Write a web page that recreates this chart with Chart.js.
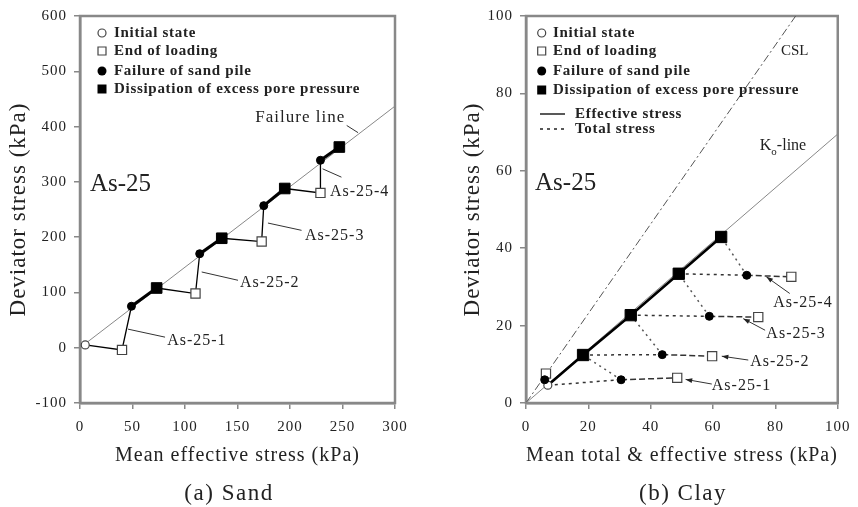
<!DOCTYPE html>
<html>
<head>
<meta charset="utf-8">
<script src="https://cdn.jsdelivr.net/npm/chart.js@4/dist/chart.umd.min.js"></script>
<style>
  html, body { margin: 0; padding: 0; background: #fff; }
  canvas { position: absolute; top: 0; }
  #sand { left: 0; }
  #clay { left: 429px; }
</style>
</head>
<body>
<canvas id="sand" width="429" height="507"></canvas>
<canvas id="clay" width="429" height="507"></canvas>
<script>
// (a) Sand: [mean effective stress, deviator stress] in kPa
const sandInitial = [[5, 5]];
const sandEndLoading = [[40, -4], [110, 98], [173, 192], [229, 280]];
const sandFailure = [[49, 75], [114, 170], [175, 257], [229, 339]];
const sandDissipation = [[73, 108], [135, 198], [195, 288], [247, 363]];
const sandFailureLine = [[0, 0], [300, 437]];
const sandXTicks = [0, 50, 100, 150, 200, 250, 300];
const sandYTicks = [-100, 0, 100, 200, 300, 400, 500, 600];

// (b) Clay: [mean total & effective stress, deviator stress] in kPa
const clayInitial = [[7, 4.6]];
const clayEndLoading = [[6.4, 7.6], [48.5, 6.5], [59.7, 12.1], [74.5, 22.2], [85.1, 32.6]];
const clayFailure = [[6, 6], [30.5, 6], [43.7, 12.5], [58.8, 22.4], [70.8, 33]];
const clayDissipation = [[18.3, 12.4], [33.6, 22.7], [49, 33.4], [62.6, 42.9]];
const clayK0Line = [[0, 0], [100, 69.5]];
const clayCSL = [[0, 0], [86.5, 100]];
const clayXTicks = [0, 20, 40, 60, 80, 100];
const clayYTicks = [0, 20, 40, 60, 80, 100];

const caseNames = ['As-25-1', 'As-25-2', 'As-25-3', 'As-25-4'];

const FONT = '"Liberation Serif", "Times New Roman", serif';
const pts = a => a.map(([x, y]) => ({x, y}));

// sand path: initial -> (end of loading -> failure -> dissipation) x 4
let sandPath = [...sandInitial];
sandEndLoading.forEach((p, i) => sandPath.push(p, sandFailure[i], sandDissipation[i]));

function markerSets(initial, endLoading, failure, dissipation, sqR) {
    return [
        {data: pts(dissipation), pointStyle: 'rect', pointRadius: sqR, pointBackgroundColor: '#000', pointBorderColor: '#000', pointBorderWidth: 1},
        {data: pts(failure), pointStyle: 'circle', pointRadius: 4, pointBackgroundColor: '#000', pointBorderColor: '#000', pointBorderWidth: 1},
        {data: pts(endLoading), pointStyle: 'rect', pointRadius: 6.5, pointBackgroundColor: '#fff', pointBorderColor: '#444', pointBorderWidth: 1.2},
        {data: pts(initial), pointStyle: 'circle', pointRadius: 4, pointBackgroundColor: '#fff', pointBorderColor: '#444', pointBorderWidth: 1.2}
    ];
}

function line(data, color, width, dash) {
    return {data: pts(data), showLine: true, pointRadius: 0, borderColor: color, borderWidth: width, borderDash: dash || []};
}

const sandSets = [
    ...markerSets(sandInitial, sandEndLoading, sandFailure, sandDissipation, 7.5),
    {data: pts(sandPath), showLine: true, pointRadius: 0, borderColor: '#000', borderWidth: 1.3,
     segment: {borderWidth: c => c.p0DataIndex % 3 === 2 ? 3 : 1.3}},
    line(sandFailureLine, '#888', 1)
];

// clay total stress paths, stage k = 1..4
let clayTotal = [];
for (let k = 1; k <= 4; k++) {
    let start = k === 1 ? clayInitial[0] : clayDissipation[k - 2];
    clayTotal.push(line([start, clayFailure[k]], '#333', 1.5, [3, 4]));
    clayTotal.push(line([clayFailure[k], clayEndLoading[k]], '#333', 1.5, [6, 3]));
    clayTotal.push(line([clayFailure[k], clayDissipation[k - 1]], '#555', 1.5, [2, 4]));
}

const claySets = [
    ...markerSets(clayInitial, clayEndLoading, clayFailure, clayDissipation, 8),
    line([...clayInitial, ...clayDissipation], '#000', 2.6),
    ...clayTotal,
    line(clayK0Line, '#888', 1),
    line(clayCSL, '#555', 1, [8, 3, 2, 3])
];

function scales(xTicks, yTicks, xTitle, yWidth, yTitlePad) {
    const tickFont = {family: FONT, size: 15};
    const grid = {drawOnChartArea: false, drawTicks: true, tickLength: 6, color: '#888', lineWidth: 1.5};
    const border = {display: true, color: '#888', width: 2.5};
    return {
        x: {
            type: 'linear', min: xTicks[0], max: xTicks[xTicks.length - 1],
            ticks: {stepSize: xTicks[1] - xTicks[0], font: tickFont, color: '#222', padding: 9, maxRotation: 0, autoSkip: false},
            grid, border,
            title: {display: true, text: xTitle, font: {family: FONT, size: 20}, color: '#222', padding: {top: 0, bottom: 39}},
            afterFit: s => { s.height = 104; }
        },
        y: {
            type: 'linear', min: yTicks[0], max: yTicks[yTicks.length - 1],
            ticks: {stepSize: yTicks[1] - yTicks[0], font: tickFont, color: '#222', padding: 7, autoSkip: false},
            grid, border,
            title: {display: true, text: 'Deviator stress (kPa)', font: {family: FONT, size: 23}, color: '#222', padding: {top: yTitlePad, bottom: 0}},
            afterFit: s => { s.width = yWidth; }
        }
    };
}

function drawMarker(ctx, kind, x, y) {
    ctx.beginPath();
    ctx.lineWidth = 1.2;
    ctx.strokeStyle = '#444';
    ctx.fillStyle = '#000';
    if (kind === 'circleOpen') { ctx.arc(x, y, 4, 0, Math.PI * 2); ctx.stroke(); }
    if (kind === 'squareOpen') { ctx.rect(x - 4, y - 4, 8, 8); ctx.stroke(); }
    if (kind === 'circle') { ctx.arc(x, y, 4.5, 0, Math.PI * 2); ctx.fill(); }
    if (kind === 'square') { ctx.rect(x - 4.5, y - 4.5, 9, 9); ctx.fill(); }
    if (kind === 'solid' || kind === 'dotted') {
        ctx.lineWidth = 1.5;
        ctx.strokeStyle = '#222';
        ctx.setLineDash(kind === 'dotted' ? [3, 4] : []);
        ctx.moveTo(x, y); ctx.lineTo(x + 25, y); ctx.stroke();
        ctx.setLineDash([]);
    }
}

function notes(spec) {
    return {
        id: 'notes',
        beforeDraw(chart) { chart.ctx.letterSpacing = '1px'; },
        beforeDatasetsDraw(chart) {
            const {ctx, chartArea: a} = chart;
            ctx.save();
            ctx.strokeStyle = '#888';
            ctx.lineWidth = 2.5;
            ctx.strokeRect(a.left, a.top, a.right - a.left, a.bottom - a.top);
            ctx.restore();
        },
        afterDatasetsDraw(chart) {
            const {ctx, chartArea: a, scales: {x, y}} = chart;
            const px = p => [x.getPixelForValue(p[0]), y.getPixelForValue(p[1])];
            ctx.save();
            ctx.textBaseline = 'middle';
            ctx.textAlign = 'left';
            ctx.fillStyle = '#222';

            // leaders, some with a small arrow at the path end
            spec.leaders.forEach(l => {
                const [x0, y0] = px(l.from), [x1, y1] = px(l.to);
                ctx.strokeStyle = '#333';
                ctx.lineWidth = 1;
                ctx.beginPath(); ctx.moveTo(x0, y0); ctx.lineTo(x1, y1); ctx.stroke();
                if (l.arrow) {
                    const ang = Math.atan2(y1 - y0, x1 - x0);
                    ctx.beginPath();
                    ctx.moveTo(x0, y0);
                    ctx.lineTo(x0 + 7 * Math.cos(ang - 0.35), y0 + 7 * Math.sin(ang - 0.35));
                    ctx.lineTo(x0 + 7 * Math.cos(ang + 0.35), y0 + 7 * Math.sin(ang + 0.35));
                    ctx.closePath();
                    ctx.fillStyle = '#222';
                    ctx.fill();
                }
            });

            spec.texts.forEach(t => {
                const [tx, ty] = px(t.at);
                ctx.font = t.font;
                ctx.letterSpacing = t.spacing || '0px';
                ctx.fillStyle = '#222';
                ctx.fillText(t.text, tx, ty);
                if (t.sub) {
                    const w = ctx.measureText(t.text).width;
                    ctx.font = t.subFont;
                    ctx.fillText(t.sub, tx + w, ty + 6);
                    const w2 = ctx.measureText(t.sub).width;
                    ctx.font = t.font;
                    ctx.fillText(t.after, tx + w + w2, ty);
                }
            });

            // legend
            ctx.font = 'bold 15px ' + FONT;
            ctx.letterSpacing = '0.7px';
            spec.legend.forEach(it => {
                const isLine = it.kind === 'solid' || it.kind === 'dotted';
                drawMarker(ctx, it.kind, a.left + (isLine ? spec.lineX : spec.markX), a.top + it.dy);
                ctx.fillStyle = '#222';
                ctx.fillText(it.text, a.left + (isLine ? spec.lineTextX : spec.textX), a.top + it.dy);
            });

            // caption under the panel
            ctx.font = '23px ' + FONT;
            ctx.letterSpacing = '1.5px';
            ctx.textAlign = 'center';
            ctx.fillText(spec.caption, spec.captionX, 494);
            ctx.restore();
        }
    };
}

const legendItems = [
    {kind: 'circleOpen', text: 'Initial state', dy: 17},
    {kind: 'squareOpen', text: 'End of loading', dy: 35},
    {kind: 'circle', text: 'Failure of sand pile', dy: 55},
    {kind: 'square', text: 'Dissipation of excess pore pressure', dy: 73}
];

const caseFont = '16px ' + FONT;
const sandNotes = {
    caption: '(a) Sand', captionX: 229,
    markX: 22, textX: 34,
    legend: legendItems,
    texts: [
        {text: 'As-25', at: [9.5, 295], font: '25px ' + FONT},
        {text: 'Failure line', at: [167, 416], font: '17px ' + FONT, spacing: '1px'},
        {text: caseNames[0], at: [83, 12.5], font: caseFont, spacing: '1px'},
        {text: caseNames[1], at: [152.4, 116.6], font: caseFont, spacing: '1px'},
        {text: caseNames[2], at: [214.3, 202.3], font: caseFont, spacing: '1px'},
        {text: caseNames[3], at: [238, 281.4], font: caseFont, spacing: '1px'}
    ],
    leaders: [
        {from: [254, 402], to: [264.8, 389]},
        {from: [45.7, 33.6], to: [81, 19.1]},
        {from: [115.9, 137], to: [150.5, 122]},
        {from: [179, 225.5], to: [211, 212.3]},
        {from: [231, 323.6], to: [249, 308.5]}
    ]
};

const clayNotes = {
    caption: '(b) Clay', captionX: 254,
    markX: 15.7, textX: 27, lineX: 14, lineTextX: 49,
    legend: [
        {kind: 'circleOpen', text: 'Initial state', dy: 17},
        {kind: 'squareOpen', text: 'End of loading', dy: 35},
        {kind: 'circle', text: 'Failure of sand pile', dy: 55},
        {kind: 'square', text: 'Dissipation of excess pore pressure', dy: 74},
        {kind: 'solid', text: 'Effective stress', dy: 98},
        {kind: 'dotted', text: 'Total stress', dy: 113}
    ],
    texts: [
        {text: 'As-25', at: [2.9, 56.7], font: '25px ' + FONT},
        {text: 'CSL', at: [81.8, 91], font: '15px ' + FONT},
        {text: 'K', at: [75, 66.5], font: '16px ' + FONT, sub: 'o', subFont: '11px ' + FONT, after: '-line'},
        {text: caseNames[0], at: [59.6, 4.4], font: caseFont, spacing: '1px'},
        {text: caseNames[1], at: [71.9, 10.6], font: caseFont, spacing: '1px'},
        {text: caseNames[2], at: [77.1, 17.9], font: caseFont, spacing: '1px'},
        {text: caseNames[3], at: [79.3, 25.9], font: caseFont, spacing: '1px'}
    ],
    leaders: [
        {from: [51.2, 6.1], to: [59.6, 4.9], arrow: true},
        {from: [62.8, 12.1], to: [71.3, 11.1], arrow: true},
        {from: [69.7, 21.8], to: [76.7, 18.8], arrow: true},
        {from: [77.1, 32.6], to: [84.6, 28.3], arrow: true}
    ]
};

function makeChart(id, datasets, sc, padRight, note) {
    return new Chart(document.getElementById(id), {
        type: 'scatter',
        data: {datasets: datasets},
        options: {
            responsive: false,
            animation: false,
            devicePixelRatio: 1,
            events: [],
            layout: {padding: {top: 15, right: padRight, bottom: 0, left: 0}},
            plugins: {legend: {display: false}, tooltip: {enabled: false}},
            scales: sc
        },
        plugins: [notes(note)]
    });
}

const sandChart = makeChart('sand', sandSets,
    scales(sandXTicks, sandYTicks, 'Mean effective stress (kPa)', 80, 5), 34, sandNotes);
const clayChart = makeChart('clay', claySets,
    scales(clayXTicks, clayYTicks, 'Mean total & effective stress (kPa)', 97, 30), 18, clayNotes);
</script>
</body>
</html>
